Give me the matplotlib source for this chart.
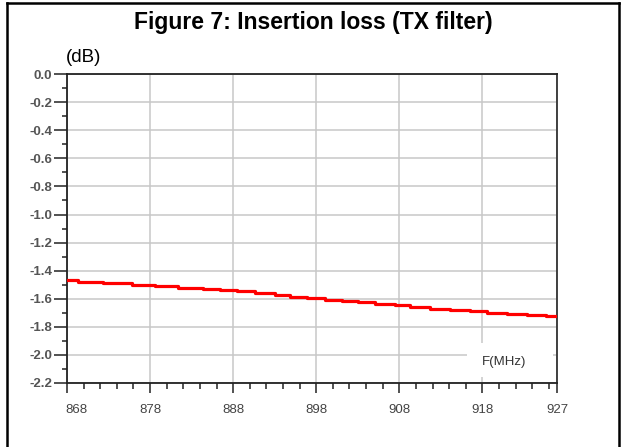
import matplotlib
matplotlib.use('Agg')
import matplotlib.pyplot as plt
import matplotlib.transforms as mtransforms
from matplotlib.lines import Line2D
from matplotlib.patches import Rectangle

plt.rcParams['font.family'] = ['Liberation Sans', 'DejaVu Sans']
plt.rcParams['axes.unicode_minus'] = False

# Insertion loss (start frequency of each level, dB)
freq_mhz = [868.0, 869.3, 872.3, 875.8, 878.6, 881.4, 884.4, 886.4, 888.5,
            890.6, 893.0, 894.9, 896.9, 899.1, 901.1, 903.0, 905.1, 907.5,
            909.3, 911.7, 914.1, 916.5, 918.6, 921.0, 923.4, 925.6, 927.0]
loss_db = [-1.465, -1.478, -1.487, -1.500, -1.510, -1.520, -1.530, -1.540,
           -1.548, -1.562, -1.575, -1.587, -1.596, -1.606, -1.616, -1.625,
           -1.637, -1.646, -1.658, -1.670, -1.682, -1.690, -1.700, -1.707,
           -1.717, -1.726, -1.726]

x_major = [868, 878, 888, 898, 908, 918, 927]
x_minor = [870, 872, 874, 876, 880, 882, 884, 886, 890, 892, 894, 896,
           900, 902, 904, 906, 910, 912, 914, 916, 920, 922, 924, 926]
y_major = [0.0, -0.2, -0.4, -0.6, -0.8, -1.0, -1.2, -1.4, -1.6, -1.8, -2.0, -2.2]
y_minor = [-0.1, -0.3, -0.5, -0.7, -0.9, -1.1, -1.3, -1.5, -1.7, -1.9, -2.1]

fig = plt.figure(figsize=(6.26, 4.47), dpi=100)
ax = fig.add_axes([0.107, 0.1432, 0.783, 0.691])

# outer frame (left, top, right)
W, H = 626.0, 447.0
frame = dict(color='black', lw=1.8, transform=fig.transFigure)
fig.add_artist(Line2D([6.5 / W, 6.5 / W], [0, 1 - 3 / H], **frame))
fig.add_artist(Line2D([6.5 / W, 619 / W], [1 - 3 / H, 1 - 3 / H], **frame))
fig.add_artist(Line2D([619 / W, 619 / W], [0, 1 - 3 / H], **frame))

ax.step(freq_mhz, loss_db, where='post', color='#ff0000', lw=2.3, zorder=3)

ax.set_xlim(868, 927)
ax.set_ylim(-2.2, 0.0)
ax.set_xticks(x_major)
ax.set_xticks(x_minor, minor=True)
ax.set_yticks(y_major)
ax.set_yticks(y_minor, minor=True)
ax.set_yticklabels(['%.1f' % v for v in y_major])

ax.set_axisbelow(True)
ax.grid(True, which='major', color='#c8c8c8', lw=1.1)

ax.tick_params(axis='y', which='major', direction='out', length=9.5, width=1.1,
               color='#222222', pad=1, labelsize=9.5, labelcolor='#555555')
ax.tick_params(axis='y', which='minor', direction='out', length=3.5, width=1.1,
               color='#222222')
ax.tick_params(axis='x', which='major', direction='out', length=7, width=1.1,
               color='#222222', pad=8, labelsize=9.5, labelcolor='#444444')
ax.tick_params(axis='x', which='minor', direction='out', length=4, width=1.1,
               color='#222222')
for lab in ax.get_yticklabels():
    lab.set_fontweight('bold')

# first x label sits a little right of its tick
first = ax.get_xticklabels()[0]
first.set_transform(first.get_transform() +
                    mtransforms.ScaledTranslation(9 / 100, 0, fig.dpi_scale_trans))

for side in ['left', 'top', 'bottom']:
    ax.spines[side].set_color('#222222')
    ax.spines[side].set_linewidth(1.3)
ax.spines['right'].set_color('#333333')
ax.spines['right'].set_linewidth(1.3)

# white box behind the x axis label
ax.add_patch(Rectangle((0.816, 0.019), 0.176, 0.11, transform=ax.transAxes,
                       facecolor='white', edgecolor='none', zorder=1))
ax.text(0.892, 0.068, 'F(MHz)', transform=ax.transAxes, ha='center',
        va='center', fontsize=9.5, color='#333333', zorder=4)

fig.text(0.5, 0.950, 'Figure 7: Insertion loss (TX filter)', ha='center',
         va='center', fontsize=16.5, fontweight='bold')
fig.text(0.134, 0.872, '(dB)', ha='center', va='center', fontsize=13.5)

fig.savefig('out.png', dpi=100)
